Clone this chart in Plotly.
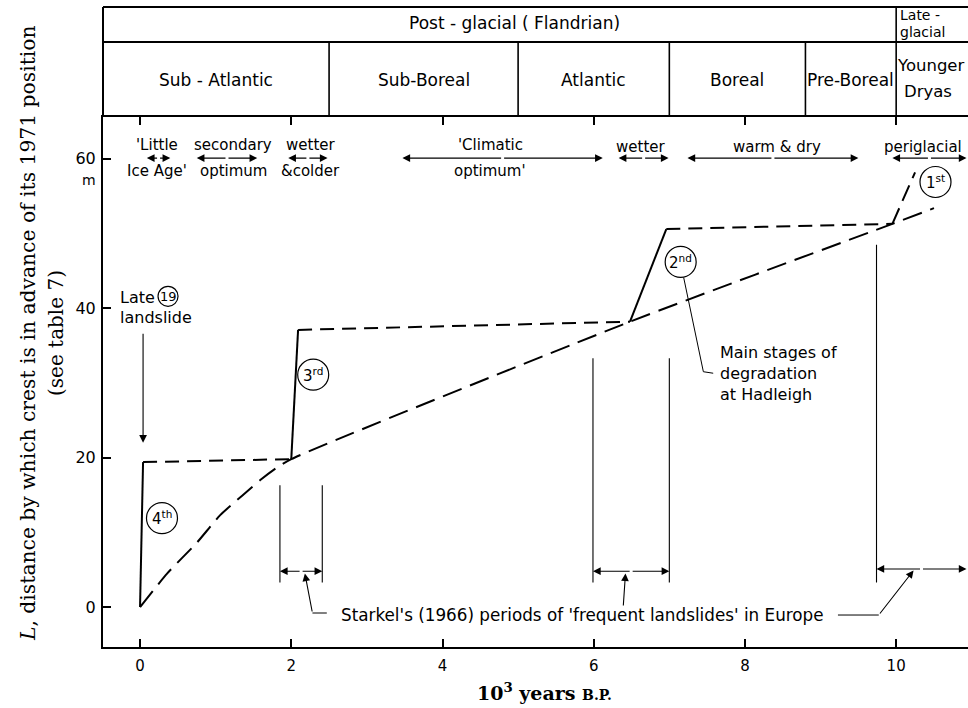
import plotly.graph_objects as go

# ---------------- data ----------------
# smooth long-dashed curve through the main stages
TREND_X = [0.0, 0.36, 0.75, 1.06, 1.35, 1.59, 1.80, 2.0, 6.48, 9.95, 10.5]
TREND_Y = [0.0, 4.5, 8.6, 12.3, 14.9, 17.0, 18.6, 19.8, 38.2, 51.3, 53.4]

# stepped curve: main stages of degradation at Hadleigh
STAGE_X = [0.0, 0.04, 2.0, 2.09, 6.48, 6.96, 9.95, 10.25]
STAGE_Y = [0.0, 19.4, 19.8, 37.1, 38.2, 50.6, 51.3, 58.2]
STAGE_NAMES = ["4<sup>th</sup>", "3<sup>rd</sup>", "2<sup>nd</sup>", "1<sup>st</sup>"]
STAGE_LABEL_X = [0.29, 2.29, 7.15, 10.52]
STAGE_LABEL_Y = [11.9, 31.1, 46.2, 56.9]

# Starkel's (1966) periods of frequent landslides
STARKEL_START = [1.85, 5.99, 9.74]
STARKEL_END = [2.41, 7.00, 11.0]
STARKEL_TOP = [16.3, 33.3, 48.5]
STARKEL_BOTTOM = 3.3
STARKEL_ARROW_Y = [4.8, 4.8, 5.1]

# climatic phases (top of plot)
CLIMATE_LINE1 = ["'Little", "secondary", "wetter", "'Climatic", "wetter", "warm & dry", "periglacial"]
CLIMATE_LINE2 = ["Ice Age'", "optimum", "&colder", "optimum'", "", "", ""]
CLIMATE_TEXT_X = [0.22, 1.23, 2.26, 4.63, 6.62, 8.42, 10.36]
CLIMATE_START = [0.09, 0.75, 1.96, 3.47, 6.33, 7.24, 9.95]
CLIMATE_END = [0.40, 1.55, 2.48, 6.12, 6.99, 9.50, 10.93]

# pollen zones / periods (header)
PERIOD_NAMES = ["Sub - Atlantic", "Sub-Boreal", "Atlantic", "Boreal", "Pre-Boreal"]
PERIOD_BOUNDS = [2.5, 5.0, 7.0, 8.8, 10.0]

X_TICKS = [0, 2, 4, 6, 8, 10]
Y_TICKS = [0, 20, 40, 60]

# ---------------- layout geometry ----------------
W, H = 968, 708
ML, MR, MT, MB = 103, 0, 117, 61
PW, PH = W - ML - MR, H - MT - MB
XR = [-0.49, 10.95]
YR = [-5.35, 65.6]
KX = PW / (XR[1] - XR[0])   # px per x unit
KY = PH / (YR[1] - YR[0])   # px per y unit
SANS = "DejaVu Sans"
SERIF = "DejaVu Serif"


def xp(x):
    return (x - XR[0]) / (XR[1] - XR[0])


def ppy(py):
    return (H - MB - py) / PH


fig = go.Figure()

# smooth trend
fig.add_trace(go.Scatter(x=TREND_X, y=TREND_Y, mode="lines",
                         line=dict(color="black", width=2, dash="20px,9px",
                                   shape="spline", smoothing=0.6),
                         hoverinfo="skip"))

# stepped stages
SEG_STYLE = ["solid", "14px,8px", "solid", "14px,8px", "solid", "14px,8px", "17px,8px"]
for i, d in enumerate(SEG_STYLE):
    fig.add_trace(go.Scatter(x=STAGE_X[i:i + 2], y=STAGE_Y[i:i + 2], mode="lines",
                             line=dict(color="black", width=2, dash=d),
                             hoverinfo="skip"))

# Starkel vertical bars
vx, vy = [], []
for s, e, t in zip(STARKEL_START, STARKEL_END, STARKEL_TOP):
    for xx in (s, e):
        if xx < XR[1] - 0.05:
            vx += [xx, xx, None]
            vy += [STARKEL_BOTTOM, t, None]
fig.add_trace(go.Scatter(x=vx, y=vy, mode="lines", line=dict(color="black", width=1.1),
                         hoverinfo="skip"))

# leader lines
lx = [2.28, 2.47, None, 9.23, 9.77, None, 7.19, 7.45, 7.58]
ly = [-0.8, -0.8, None, -1.07, -1.07, None, 44.1, 31.5, 31.3]
fig.add_trace(go.Scatter(x=lx, y=ly, mode="lines", line=dict(color="black", width=1),
                         hoverinfo="skip"))

ann = []
shapes = []


def arrow(x0, y0, x1, y1, w=1.1, size=1.4):
    return dict(x=x1, y=y1, ax=x0, ay=y0, xref="x", yref="y", axref="x", ayref="y",
                text="", showarrow=True, arrowhead=2, arrowsize=size, arrowwidth=w,
                arrowcolor="black", standoff=0, startstandoff=0)


def darrow(x0, x1, y):
    m = (x0 + x1) / 2
    return [arrow(m, y, x0, y), arrow(m, y, x1, y)]


# Starkel double arrows and pointers
for s, e, ay in zip(STARKEL_START, STARKEL_END, STARKEL_ARROW_Y):
    ann += darrow(s, min(e, XR[1] - 0.02), ay)
ann.append(arrow(2.28, -0.8, 2.18, 4.5))
ann.append(arrow(6.39, 0.0, 6.42, 4.5))
ann.append(arrow(9.77, -1.07, 10.23, 4.9))
ann.append(dict(x=5.85, y=-1.07, xref="x", yref="y", showarrow=False,
                text="Starkel's (1966) periods of 'frequent landslides' in Europe",
                font=dict(family=SANS, size=16.8, color="black")))

# climate labels
Y_ARROW, Y_L1, Y_L2, Y_SINGLE = 60.1, 61.8, 58.4, 61.6
for t1, t2, tx, s, e in zip(CLIMATE_LINE1, CLIMATE_LINE2, CLIMATE_TEXT_X,
                            CLIMATE_START, CLIMATE_END):
    ann += darrow(s, e, Y_ARROW)
    ann.append(dict(x=tx, y=Y_L1 if t2 else Y_SINGLE, xref="x", yref="y", text=t1,
                    showarrow=False, font=dict(family=SANS, size=15, color="black")))
    if t2:
        ann.append(dict(x=tx, y=Y_L2, xref="x", yref="y", text=t2, showarrow=False,
                        font=dict(family=SANS, size=15, color="black")))

# circled stage labels
R = 15.5
for name, cx, cy in zip(STAGE_NAMES, STAGE_LABEL_X, STAGE_LABEL_Y):
    shapes.append(dict(type="circle", xref="x", yref="y",
                       x0=cx - R / KX, x1=cx + R / KX, y0=cy - R / KY, y1=cy + R / KY,
                       line=dict(color="black", width=1.2)))
    ann.append(dict(x=cx, y=cy, xref="x", yref="y", text=name, showarrow=False,
                    font=dict(family=SANS, size=15, color="black")))

# main stages text
ann.append(dict(x=7.64, y=31.3, xref="x", yref="y", xanchor="left", align="left",
                text="Main stages of<br>degradation<br>at Hadleigh", showarrow=False,
                font=dict(family=SANS, size=16, color="black")))

# Late 19 landslide
ann.append(dict(x=-0.29, y=41.5, xref="x", yref="y", xanchor="left", text="Late",
                showarrow=False, font=dict(family=SANS, size=16, color="black")))
ann.append(dict(x=0.38, y=41.6, xref="x", yref="y", text="19",
                showarrow=False, font=dict(family=SANS, size=13, color="black")))
r19 = 10
shapes.append(dict(type="circle", xref="x", yref="y",
                   x0=0.37 - r19 / KX, x1=0.37 + r19 / KX,
                   y0=41.6 - r19 / KY, y1=41.6 + r19 / KY,
                   line=dict(color="black", width=1.2)))
ann.append(dict(x=-0.29, y=38.8, xref="x", yref="y", xanchor="left", text="landslide",
                showarrow=False, font=dict(family=SANS, size=16, color="black")))
ann.append(arrow(0.04, 36.8, 0.04, 22.0))

# ---------------- header table ----------------
Y_TOP, Y_DIV = ppy(7), ppy(42)
hl = dict(color="black", width=2)
shapes.append(dict(type="line", xref="paper", yref="paper", x0=0, x1=1, y0=Y_TOP, y1=Y_TOP, line=hl))
shapes.append(dict(type="line", xref="paper", yref="paper", x0=0, x1=1, y0=Y_DIV, y1=Y_DIV, line=hl))
shapes.append(dict(type="line", xref="paper", yref="paper", x0=0, x1=0, y0=1, y1=Y_TOP, line=hl))
for i, b in enumerate(PERIOD_BOUNDS):
    top = Y_TOP if i == len(PERIOD_BOUNDS) - 1 else Y_DIV
    shapes.append(dict(type="line", xref="paper", yref="paper", x0=xp(b), x1=xp(b),
                       y0=1, y1=top, line=dict(color="black", width=1.6)))

edges = [XR[0]] + PERIOD_BOUNDS
for name, a, b in zip(PERIOD_NAMES, edges[:-1], edges[1:]):
    ann.append(dict(x=xp((a + b) / 2), y=ppy(80), xref="paper", yref="paper", text=name,
                    showarrow=False, font=dict(family=SANS, size=17, color="black")))
ann.append(dict(x=xp(4.95), y=ppy(23), xref="paper", yref="paper",
                text="Post - glacial ( Flandrian)", showarrow=False,
                font=dict(family=SANS, size=17, color="black")))
ann.append(dict(x=xp(10.03), y=ppy(15), xref="paper", yref="paper", xanchor="left",
                text="Late -", showarrow=False, font=dict(family=SANS, size=14, color="black")))
ann.append(dict(x=xp(10.03), y=ppy(32), xref="paper", yref="paper", xanchor="left",
                text="glacial", showarrow=False, font=dict(family=SANS, size=14, color="black")))
ann.append(dict(x=xp(10.46), y=ppy(66), xref="paper", yref="paper",
                text="Younger", showarrow=False, font=dict(family=SANS, size=16.5, color="black")))
ann.append(dict(x=xp(10.42), y=ppy(91), xref="paper", yref="paper",
                text="Dryas", showarrow=False, font=dict(family=SANS, size=16.5, color="black")))

# axis titles & unit
ann.append(dict(x=(89 - ML) / PW, y=57.2, xref="paper", yref="y", text="m", showarrow=False,
                font=dict(family=SANS, size=14, color="black")))
ann.append(dict(x=(28 - ML) / PW, y=ppy(333), xref="paper", yref="paper", textangle=-90,
                text="<i>L</i>, distance by which crest is in advance of its 1971 position",
                showarrow=False, font=dict(family=SERIF, size=20.3, color="black")))
ann.append(dict(x=(56 - ML) / PW, y=ppy(333), xref="paper", yref="paper", textangle=-90,
                text="(see table 7)", showarrow=False,
                font=dict(family=SERIF, size=20, color="black")))
ann.append(dict(x=(544 - ML) / PW, y=ppy(692), xref="paper", yref="paper",
                text="<b>10<sup>3</sup> years <span style='font-size:14px'>B.P.</span></b>",
                showarrow=False, font=dict(family=SERIF, size=19, color="black")))

for a in ann:
    a.setdefault("xanchor", "center")
    a.setdefault("yanchor", "middle")

fig.update_layout(
    width=W, height=H, margin=dict(l=ML, r=MR, t=MT, b=MB, pad=0),
    paper_bgcolor="white", plot_bgcolor="white", showlegend=False,
    annotations=ann, shapes=shapes,
    xaxis=dict(range=XR, tickvals=X_TICKS, ticktext=[str(v) for v in X_TICKS],
               ticks="inside", ticklen=8, tickwidth=1.5, tickcolor="black",
               showline=True, linecolor="black", linewidth=2, mirror="ticks",
               showgrid=False, zeroline=False,
               tickfont=dict(family=SANS, size=15, color="black"), ticklabelstandoff=4),
    yaxis=dict(range=YR, tickvals=Y_TICKS, ticktext=[str(v) for v in Y_TICKS],
               ticks="inside", ticklen=8, tickwidth=1.5, tickcolor="black",
               showline=True, linecolor="black", linewidth=2,
               showgrid=False, zeroline=False,
               tickfont=dict(family=SANS, size=16, color="black"), ticklabelstandoff=2),
    yaxis2=dict(range=YR, overlaying="y", side="right", tickvals=Y_TICKS,
                ticks="inside", ticklen=7, tickwidth=1.5, tickcolor="black",
                showticklabels=False, showline=False, showgrid=False, zeroline=False),
)

fig.write_html("out.html")
